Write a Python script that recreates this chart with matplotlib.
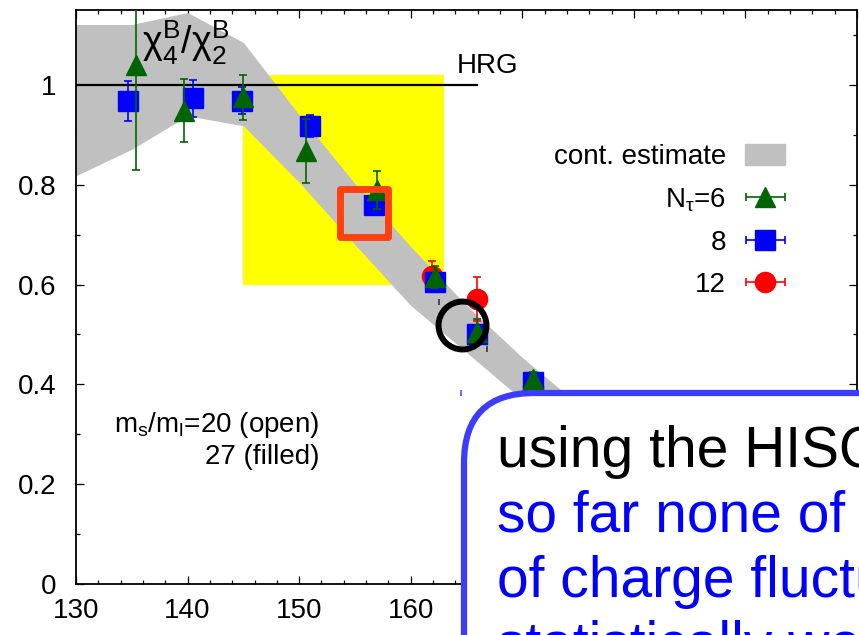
import matplotlib
matplotlib.use("Agg")
import matplotlib.pyplot as plt
import matplotlib.patches as mpatches
from matplotlib.markers import MarkerStyle
from matplotlib.container import ErrorbarContainer
from matplotlib.legend_handler import HandlerErrorbar
from matplotlib.transforms import IdentityTransform
from matplotlib.ticker import MultipleLocator, FuncFormatter
import numpy as np

plt.rcParams['font.family'] = ['Liberation Sans', 'DejaVu Sans']
plt.rcParams['mathtext.fontset'] = 'custom'
plt.rcParams['mathtext.rm'] = 'Liberation Sans'
plt.rcParams['mathtext.it'] = 'Liberation Sans:italic'
plt.rcParams['mathtext.default'] = 'regular'

# continuum estimate band
band_T = [130, 135, 140, 145, 150, 155, 160, 165, 170, 175, 180]
band_hi = [1.121, 1.121, 1.145, 1.085, 0.94, 0.802, 0.676, 0.558, 0.454, 0.36, 0.28]
band_lo = [0.818, 0.871, 0.938, 0.918, 0.805, 0.68, 0.558, 0.464, 0.369, 0.29, 0.22]

# N_tau = 6
T6 = [135.4, 139.7, 145.0, 150.6, 157.0, 162.2, 165.9, 171.0]
r6 = [1.04, 0.948, 0.975, 0.868, 0.79, 0.615, 0.505, 0.41]
e6 = [0.21, 0.063, 0.045, 0.064, 0.038, 0.022, 0.025, 0.015]

# N_tau = 8
T8 = [134.7, 140.5, 144.9, 150.95, 156.7, 162.2, 165.9, 171.0]
r8 = [0.968, 0.973, 0.968, 0.918, 0.76, 0.605, 0.501, 0.405]
e8 = [0.04, 0.037, 0.027, 0.022, 0.01, 0.01, 0.01, 0.01]

# N_tau = 12
T12 = [161.9, 165.9, 171.0]
r12 = [0.618, 0.571, 0.395]
e12 = [0.03, 0.044, 0.015]

# leftover bars of the open symbols (m_s/m_l=20)
open_T = [162.5, 166.8]
open_r = [0.565, 0.47]
open8_T = [164.55]
open8_r = [0.382]

hrg_T = [130, 165.9]
hrg_r = [1.0, 1.0]

green = '#006400'
blue = '#0000ff'
red = '#ff0000'

fig = plt.figure(figsize=(8.59, 6.35), dpi=100)
ax = fig.add_axes([76/859, 51/635, 781/859, 574/635])

ax.add_patch(mpatches.Rectangle((145, 0.6), 18, 0.42, facecolor='#ffff00',
                                edgecolor='none', zorder=1))
ax.fill_between(band_T, band_lo, band_hi, color='#c0c0c0', lw=0, zorder=2)
ax.plot(hrg_T, hrg_r, color='black', lw=1.6, zorder=3)

kw = dict(capsize=3, elinewidth=1.2, capthick=1.2, markersize=14.5, linestyle='none')
ax.errorbar(open_T, open_r, yerr=0.006, fmt='none', ecolor='#333333', elinewidth=1.2, zorder=3)
ax.errorbar(open8_T, open8_r, yerr=0.006, fmt='none', ecolor='#5555ff', elinewidth=1.2, zorder=3)
ax.errorbar(T12, r12, yerr=e12, fmt='o', color=red, zorder=4, **kw)
ax.errorbar(T8, r8, yerr=e8, fmt='s', color=blue, zorder=5, **kw)
ax.errorbar(T6, r6, yerr=e6, fmt='^', color=green, zorder=6, **kw)

# highlight marks
ax.plot([155.85], [0.743], linestyle='none',
        marker=MarkerStyle('s', joinstyle='round'), markersize=34.5,
        markerfacecolor='none', markeredgecolor='#ff4010', markeredgewidth=5, zorder=8)
ax.plot([164.6], [0.518], linestyle='none', marker='o', markersize=34.5,
        markerfacecolor='none', markeredgecolor='black', markeredgewidth=4.3, zorder=8)

ax.text(164.1, 1.038, 'HRG', fontsize=20, va='center', ha='left')
ax.text(135.9, 1.084, r'$\chi_4^B/\chi_2^B$', fontsize=27, va='center', ha='left')
ax.text(151.8, 0.318, 'm$_s$/m$_l$=20 (open)', fontsize=20, va='center', ha='right')
ax.text(151.8, 0.254, '27 (filled)', fontsize=20, va='center', ha='right')

ax.set_xlim(130, 200)
ax.set_ylim(0, 1.15)
ax.xaxis.set_major_locator(MultipleLocator(10))
ax.xaxis.set_minor_locator(MultipleLocator(2))
# labels past 160 sit under the overlay box
ax.xaxis.set_major_formatter(FuncFormatter(lambda v, p: '%d' % v if v <= 160 else ''))
ax.yaxis.set_major_locator(MultipleLocator(0.2))
ax.yaxis.set_minor_locator(MultipleLocator(0.1))
ax.yaxis.set_major_formatter(FuncFormatter(lambda v, p: '%g' % round(v, 2)))
ax.tick_params(which='both', direction='in', top=True, right=True, labelsize=20, width=0.9)
ax.tick_params(which='major', length=6)
ax.tick_params(which='minor', length=3)
ax.tick_params(axis='x', pad=10)
ax.tick_params(axis='y', pad=14)
for s in ax.spines.values():
    s.set_linewidth(1.3)

# legend proxies
h_band = mpatches.Patch(color='#c0c0c0', label='cont. estimate')
h6 = ax.errorbar([np.nan], [np.nan], xerr=[1], fmt='^', color=green, label=r'N$_\tau$=6', **kw)
h8 = ax.errorbar([np.nan], [np.nan], xerr=[1], fmt='s', color=blue, label='8', **kw)
h12 = ax.errorbar([np.nan], [np.nan], xerr=[1], fmt='o', color=red, label='12', **kw)
leg = ax.legend(handles=[h_band, h6, h8, h12], loc='upper right',
                bbox_to_anchor=(0.908, 0.767), frameon=False, markerfirst=False,
                fontsize=20, borderpad=0, borderaxespad=0, handlelength=1.43,
                handleheight=0.8, handletextpad=0.7, labelspacing=0.58,
                handler_map={ErrorbarContainer: HandlerErrorbar(xerr_size=0.7)})

# overlay text box
box = mpatches.FancyBboxPatch((464, -300), 700, 542,
                              boxstyle='round,pad=0,rounding_size=70',
                              transform=IdentityTransform(), facecolor='white',
                              edgecolor='#3c3cff', linewidth=4.5, zorder=10)
fig.add_artist(box)
lines = ['using the HISQ action', 'so far none of the', 'of charge fluctuations',
         'statistically well']
colors = ['black', blue, blue, blue]
for i, (t, c) in enumerate(zip(lines, colors)):
    fig.text(497/859, 1 - (467 + 65*i)/635, t, fontsize=41, color=c,
             va='baseline', ha='left', zorder=11)

fig.savefig('out.png', dpi=100)
